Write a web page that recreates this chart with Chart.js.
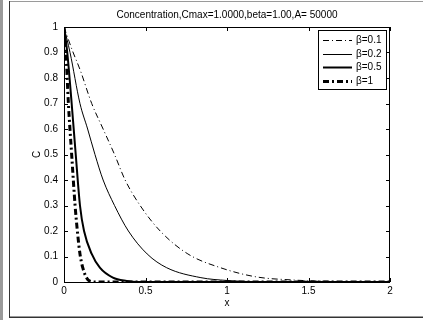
<!DOCTYPE html>
<html lang="en">
<head>
  <meta charset="UTF-8">
  <title>Concentration</title>
  <script src="https://cdn.jsdelivr.net/npm/chart.js"></script>
  <style>
    body { margin: 0; background: #fff; }
    #wrap { width: 423px; height: 320px; }
  </style>
</head>
<body>
  <div id="wrap"><canvas id="concChart" width="423" height="320"></canvas></div>
  <script>
    // values
    const seriesLabels = ['β=0.1', 'β=0.2', 'β=0.5', 'β=1'];

    const x01 = [0, 0.05, 0.1, 0.17, 0.24, 0.31, 0.375, 0.467, 0.59, 0.76, 0.96, 1.18, 1.4, 1.6, 2];
    const c01 = [1, 0.91, 0.83, 0.7, 0.6, 0.5, 0.4, 0.3, 0.2, 0.11, 0.056, 0.02, 0.008, 0.003, 0];

    const x02 = [0, 0.037, 0.098, 0.145, 0.19, 0.24, 0.31, 0.395, 0.51, 0.63, 0.84, 1.0, 1.2, 2];
    const c02 = [1, 0.9, 0.7, 0.6, 0.5, 0.4, 0.3, 0.2, 0.11, 0.056, 0.017, 0.006, 0.001, 0];

    const x05 = [0, 0.02, 0.047, 0.072, 0.098, 0.123, 0.17, 0.22, 0.30, 0.385, 0.45, 2];
    const c05 = [1, 0.9, 0.7, 0.5, 0.3, 0.2, 0.11, 0.056, 0.017, 0.004, 0, 0];

    const x1 = [0, 0.012, 0.027, 0.047, 0.068, 0.082, 0.098, 0.115, 0.14, 0.16, 0.2, 2];
    const c1 = [1, 0.9, 0.7, 0.5, 0.3, 0.2, 0.11, 0.056, 0.015, 0.003, 0, 0];

    const xTickLabels = ['0', '0.5', '1', '1.5', '2'];
    const yTickLabels = ['0', '0.1', '0.2', '0.3', '0.4', '0.5', '0.6', '0.7', '0.8', '0.9', '1'];

    const titleText = 'Concentration,Cmax=1.0000,beta=1.00,A= 50000';
    const FONT = 'Liberation Sans, Arial, sans-serif';

    function pts(xs, ys) {
      return xs.map((x, i) => ({ x: x, y: ys[i] }));
    }

    const lineStyles = [
      { width: 1, dash: [6, 3, 1, 3] },
      { width: 1, dash: [] },
      { width: 2, dash: [] },
      { width: 3, dash: [6, 3, 2, 3] }
    ];
    const allData = [pts(x01, c01), pts(x02, c02), pts(x05, c05), pts(x1, c1)];

    const datasets = allData.map((d, i) => ({
      label: seriesLabels[i],
      data: d,
      borderColor: '#000',
      borderWidth: lineStyles[i].width,
      borderDash: lineStyles[i].dash,
      pointRadius: 0,
      fill: false,
      cubicInterpolationMode: 'monotone'
    }));

    // matlab style frame, box, inward ticks, legend
    const matlabLook = {
      id: 'matlabLook',
      beforeDraw(chart) {
        const ctx = chart.ctx;
        ctx.save();
        ctx.fillStyle = '#fff';
        ctx.fillRect(0, 0, chart.width, chart.height);
        ctx.fillStyle = '#9a9a9a';
        ctx.fillRect(0, 0, 3, 320);
        ctx.fillRect(9, 1, 414, 1);
        ctx.fillRect(9, 316, 414, 1);
        ctx.fillStyle = '#333';
        ctx.fillRect(9, 1, 1, 317);
        ctx.fillRect(9, 317, 414, 1);
        ctx.restore();
      },
      afterDatasetsDraw(chart) {
        const ctx = chart.ctx;
        const a = chart.chartArea;
        const xs = chart.scales.x, ys = chart.scales.y;
        ctx.save();
        ctx.strokeStyle = '#000';
        ctx.lineWidth = 1;
        ctx.setLineDash([]);
        ctx.strokeRect(a.left + 0.5, a.top + 0.5, a.right - a.left - 1, a.bottom - a.top);
        ctx.beginPath();
        xs.ticks.forEach(t => {
          const px = Math.round(xs.getPixelForValue(t.value)) + 0.5;
          ctx.moveTo(px, a.bottom); ctx.lineTo(px, a.bottom - 4);
          ctx.moveTo(px, a.top); ctx.lineTo(px, a.top + 4);
        });
        ys.ticks.forEach(t => {
          const py = Math.round(ys.getPixelForValue(t.value)) + 0.5;
          ctx.moveTo(a.left, py); ctx.lineTo(a.left + 4, py);
          ctx.moveTo(a.right, py); ctx.lineTo(a.right - 4, py);
        });
        ctx.stroke();

        // title
        ctx.fillStyle = '#000';
        ctx.font = '10px ' + FONT;
        ctx.textAlign = 'center';
        ctx.textBaseline = 'middle';
        ctx.fillText(titleText, (a.left + a.right) / 2, 15);

        // legend
        const lx = 318, ly = 30, lw = 68, lh = 59;
        ctx.fillStyle = '#fff';
        ctx.fillRect(lx, ly, lw, lh);
        ctx.strokeStyle = '#000';
        ctx.lineWidth = 1;
        ctx.strokeRect(lx + 0.5, ly + 0.5, lw, lh);
        chart.data.datasets.forEach((ds, i) => {
          const ry = ly + 10 + i * 13.5;
          ctx.lineWidth = ds.borderWidth;
          ctx.setLineDash(ds.borderDash);
          ctx.beginPath();
          ctx.moveTo(lx + 5, Math.round(ry) + 0.5);
          ctx.lineTo(lx + 34, Math.round(ry) + 0.5);
          ctx.stroke();
          ctx.setLineDash([]);
          ctx.fillStyle = '#000';
          ctx.textAlign = 'left';
          ctx.fillText(ds.label, lx + 38, ry + 0.5);
        });
        ctx.restore();
      }
    };

    new Chart(document.getElementById('concChart'), {
      type: 'line',
      data: { datasets: datasets },
      options: {
        responsive: false,
        animation: false,
        events: [],
        layout: { padding: { top: 27, right: 33, left: 0, bottom: 0 } },
        plugins: { legend: { display: false }, tooltip: { enabled: false } },
        scales: {
          x: {
            type: 'linear', min: 0, max: 2,
            grid: { display: false, drawTicks: false },
            border: { display: false },
            ticks: {
              stepSize: 0.5, padding: 3, color: '#000',
              font: { family: FONT, size: 10 },
              callback: (v) => xTickLabels[Math.round(v / 0.5)]
            },
            title: {
              display: true, text: 'x', color: '#000',
              font: { family: FONT, size: 10 },
              padding: { top: 0, bottom: 11 }
            },
            afterFit: (s) => { s.height = 38; }
          },
          y: {
            min: 0, max: 1,
            grid: { display: false, drawTicks: false },
            border: { display: false },
            ticks: {
              stepSize: 0.1, padding: 6, color: '#000',
              font: { family: FONT, size: 10 },
              callback: (v) => yTickLabels[Math.round(v * 10)]
            },
            title: {
              display: true, text: 'C', color: '#000',
              font: { family: FONT, size: 10 },
              padding: { top: 31, bottom: 0 }
            },
            afterFit: (s) => { s.width = 64; }
          }
        }
      },
      plugins: [matlabLook]
    });
  </script>
</body>
</html>
